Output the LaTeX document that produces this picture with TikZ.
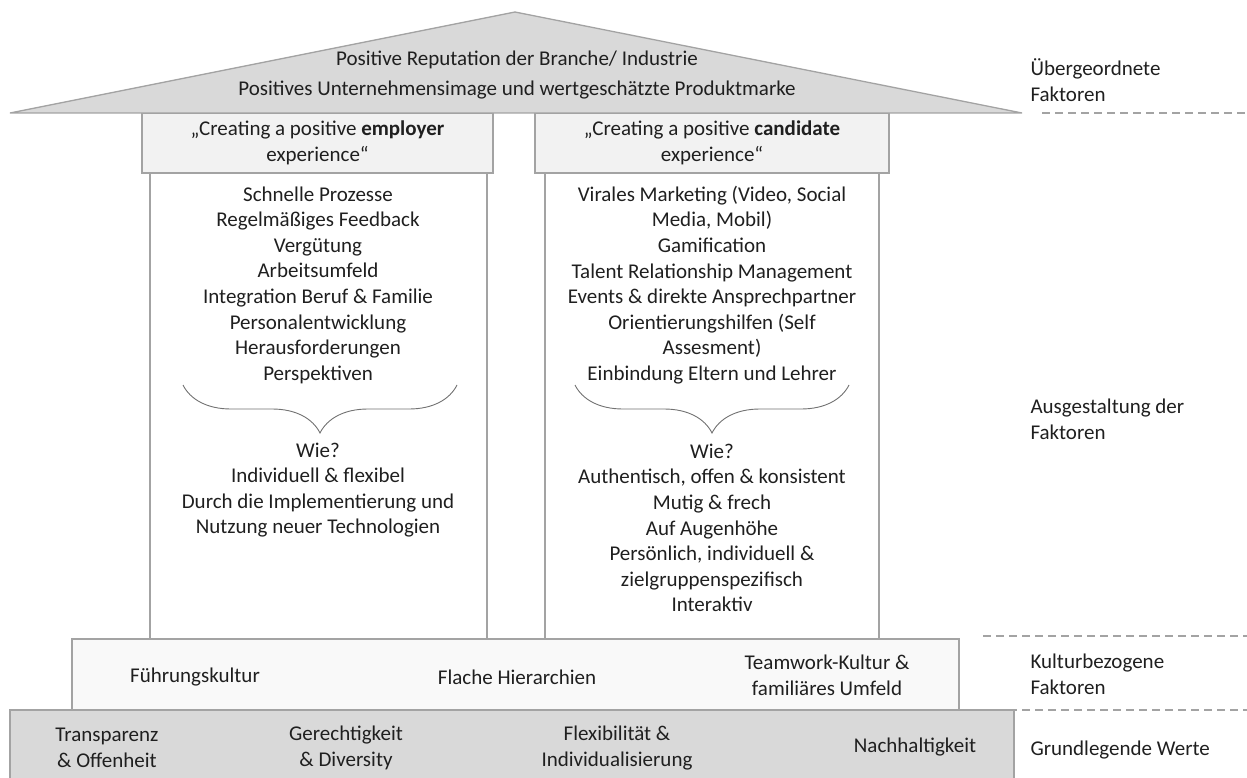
\documentclass[tikz,border=0pt]{standalone}
\usepackage{fontspec}
\setmainfont{Carlito}
\usetikzlibrary{decorations.pathreplacing,positioning}

\definecolor{roofgray}{HTML}{D9D9D9}
\definecolor{boxgray}{HTML}{F2F2F2}
\definecolor{bandgray}{HTML}{F9F9F9}
\definecolor{edgegray}{HTML}{A3A3A3}
\definecolor{txtgray}{HTML}{1F1F1F}

\begin{document}
\begin{tikzpicture}[x=1pt,y=-1pt,
  box/.style={draw=edgegray, line width=1.3pt, inner sep=0pt},
  txt/.style={font=\fontsize{21}{25.6}\selectfont, align=center, text=txtgray},
  side/.style={font=\fontsize{21}{25.6}\selectfont, align=left, anchor=west, text=txtgray},
  sepline/.style={draw=edgegray, line width=1.2pt, dash pattern=on 8pt off 5pt},
  wiebrace/.style={draw=edgegray!70!black, line width=0.9pt, decorate,
    decoration={brace, mirror, amplitude=48pt}}]
\useasboundingbox (0,0) rectangle (1247,778);

% Saeulen
\node[box, minimum width=337pt, minimum height=466pt] (pillarL) at (318.5,406) {};
\node[box, minimum width=334pt, minimum height=466pt] (pillarR) at (712,406) {};

% Kopfboxen
\node[box, fill=boxgray, txt, minimum width=351pt, minimum height=60pt] (hdrL) at (317.5,143)
  {„Creating a positive \textbf{employer}\\experience“};
\node[box, fill=boxgray, txt, minimum width=354pt, minimum height=60pt] (hdrR) at (712,143)
  {„Creating a positive \textbf{candidate}\\experience“};

% Dach
\draw[draw=edgegray, fill=roofgray, line width=1.3pt] (10,113) -- (515,12) -- (1022,113) -- cycle;
\node[txt] (reput) at (517,60) {Positive Reputation der Branche/ Industrie};
\node[txt] (image) at (517,90) {Positives Unternehmensimage und wertgeschätzte Produktmarke};

% Inhalte linke Saeule
\node[txt] (listL) at (318,285) {Schnelle Prozesse\\Regelmäßiges Feedback\\Vergütung\\Arbeitsumfeld\\
  Integration Beruf \& Familie\\Personalentwicklung\\Herausforderungen\\Perspektiven};
\coordinate (braceLa) at (183,385);
\coordinate (braceLb) at (457,385);
\draw[wiebrace] (braceLa) -- (braceLb);
\node[txt] (wieL) at (318,490) {Wie?\\Individuell \& flexibel\\Durch die Implementierung und\\
  Nutzung neuer Technologien};

% Inhalte rechte Saeule
\node[txt] (listR) at (712,285) {Virales Marketing (Video, Social\\Media, Mobil)\\Gamification\\
  Talent Relationship Management\\Events \& direkte Ansprechpartner\\Orientierungshilfen (Self\\
  Assesment)\\Einbindung Eltern und Lehrer};
\coordinate (braceRa) at (575,385);
\coordinate (braceRb) at (849,385);
\draw[wiebrace] (braceRa) -- (braceRb);
\node[txt] (wieR) at (712,528) {Wie?\\Authentisch, offen \& konsistent\\Mutig \& frech\\Auf Augenhöhe\\
  Persönlich, individuell \&\\zielgruppenspezifisch\\Interaktiv};

% Kulturband
\node[box, fill=bandgray, minimum width=887pt, minimum height=71pt] (culture) at (515.5,674.5) {};
\node[txt] (fuehr) at (195,677) {Führungskultur};
\node[txt] (flach) at (517,677) {Flache Hierarchien};
\node[txt] (team) at (827,675) {Teamwork-Kultur \&\\familiäres Umfeld};

% Werte
\node[box, fill=roofgray, minimum width=1004pt, minimum height=74pt] (werte) at (512,747) {};
\node[txt] (transp) at (107,748) {Transparenz\\\& Offenheit};
\node[txt] (gerecht) at (346,748) {Gerechtigkeit\\\& Diversity};
\node[txt] (flex) at (617,748) {Flexibilität \&\\Individualisierung};
\node[txt] (nachh) at (915,747) {Nachhaltigkeit};

% Ebenen rechts
\node[side] (lvlTop) at (1027,80) {Übergeordnete\\Faktoren};
\node[side] (lvlDes) at (1027,419) {Ausgestaltung der\\Faktoren};
\node[side] (lvlCul) at (1027,674) {Kulturbezogene\\Faktoren};
\node[side] (lvlVal) at (1027,750) {Grundlegende Werte};
\coordinate (sepA) at (1042,113);
\coordinate (sepB) at (983,636);
\coordinate (sepC) at (983,710);
\draw[sepline] (sepA) -- (sepA -| 1247,0);
\draw[sepline] (sepB) -- (sepB -| 1247,0);
\draw[sepline] (sepC) -- (sepC -| 1247,0);
\end{tikzpicture}
\end{document}
